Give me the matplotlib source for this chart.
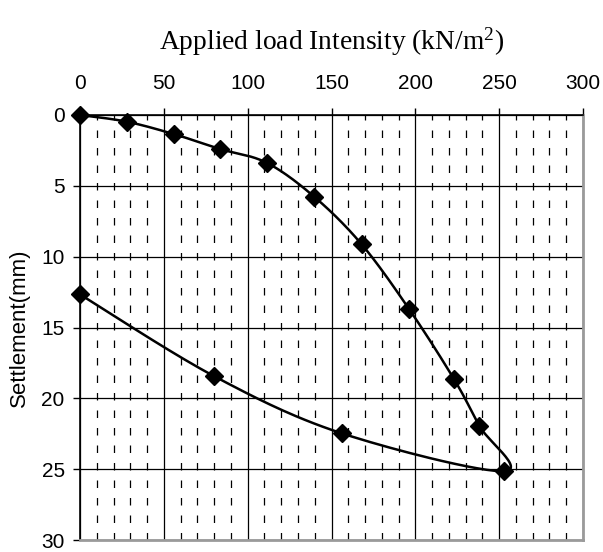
"""Load-settlement curve from a plate load test (loading and unloading)."""

import numpy as np
import matplotlib.pyplot as plt
from matplotlib.ticker import MultipleLocator


# Applied load (kN/m2) and measured settlement (mm), loading then unloading
load = [0, 27.8, 56.3, 83.5, 111.3, 139.7, 168.0, 196.4, 223.2, 238.1, 252.8,
        156.4, 79.9, 0]
settlement = [0, 0.47, 1.36, 2.4, 3.37, 5.77, 9.13, 13.72, 18.67, 21.94, 25.14,
              22.48, 18.43, 12.66]

X_TICKS = [0, 50, 100, 150, 200, 250, 300]
Y_TICKS = [0, 5, 10, 15, 20, 25, 30]

TICK_FONT = "Liberation Sans"
TITLE_FONT = "Liberation Serif"

plt.rcParams["mathtext.fontset"] = "custom"
plt.rcParams["mathtext.rm"] = TITLE_FONT
plt.rcParams["mathtext.it"] = TITLE_FONT + ":italic"


def smooth(x, y, sx=1.677, sy=14.16, n=30):
    """Catmull-Rom style bezier through the points (scaled to screen aspect)."""
    p = np.column_stack([np.asarray(x) * sx, np.asarray(y) * sy])
    pts = [p[0]]
    for i in range(len(p) - 1):
        p0 = p[i - 1] if i > 0 else p[i]
        p1, p2 = p[i], p[i + 1]
        p3 = p[i + 2] if i + 2 < len(p) else p[i + 1]
        c1 = p1 + (p2 - p0) / 6
        c2 = p2 - (p3 - p1) / 6
        t = np.linspace(0, 1, n)[1:, None]
        seg = ((1 - t) ** 3 * p1 + 3 * (1 - t) ** 2 * t * c1
               + 3 * (1 - t) * t ** 2 * c2 + t ** 3 * p2)
        pts.extend(seg)
    pts = np.array(pts)
    return pts[:, 0] / sx, pts[:, 1] / sy


fig = plt.figure(figsize=(6.03, 5.52), dpi=100)
ax = fig.add_axes([80 / 603, 1 - 540 / 552, 503 / 603, 425 / 552])

ax.set_xlim(0, 300)
ax.set_ylim(30, 0)

ax.xaxis.set_minor_locator(MultipleLocator(10))
ax.set_xticks(X_TICKS)
ax.set_yticks(Y_TICKS)

# grid: solid majors, dashed minor verticals
ax.grid(True, which="major", axis="both", color="black", linewidth=0.9)
ax.grid(True, which="minor", axis="x", color="black", linewidth=0.9,
        linestyle=(0, (6, 8)))
ax.set_axisbelow(True)

ax.xaxis.tick_top()
ax.tick_params(axis="x", which="major", direction="out", length=5, width=1,
               labelsize=15, pad=11)
ax.tick_params(axis="x", which="minor", length=0)
ax.tick_params(axis="y", direction="out", length=5, width=1, labelsize=15,
               pad=6)
for lbl in ax.get_xticklabels() + ax.get_yticklabels():
    lbl.set_fontfamily(TICK_FONT)

for side in ("top", "left"):
    ax.spines[side].set_color("black")
    ax.spines[side].set_linewidth(1.2)
for side in ("bottom", "right"):
    ax.spines[side].set_color("#9a9a9a")
    ax.spines[side].set_linewidth(2)

sx, sy = smooth(load, settlement)
ax.plot(sx, sy, color="black", linewidth=1.8, clip_on=False, zorder=3)
ax.plot(load, settlement, linestyle="none", marker="D", markersize=9,
        color="black", clip_on=False, zorder=4)

ax.set_ylabel("Settlement(mm)", fontsize=16, fontfamily=TICK_FONT,
              labelpad=8)
fig.text((80 + 583) / 2 / 603, 1 - 42 / 552,
         r"Applied load Intensity (kN/m$^2$)", ha="center", va="center",
         fontsize=19.8, fontfamily=TITLE_FONT)

fig.savefig("out.png", dpi=100)
